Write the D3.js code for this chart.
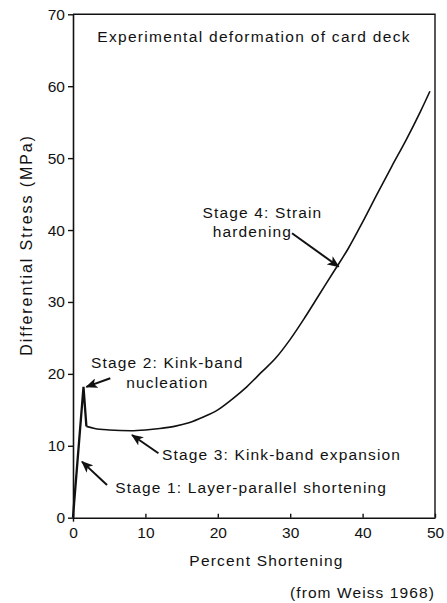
<!DOCTYPE html>
<html>
<head>
<meta charset="utf-8">
<script src="https://cdn.jsdelivr.net/npm/d3@7"></script>
<style>
  html, body { margin: 0; padding: 0; background: #fff; }
  text { font-family: "Liberation Sans", Arial, Helvetica, sans-serif; fill: #111; }
</style>
</head>
<body>
<div id="chart"></div>
<script>
var shortening = [0, 0.15, 1.45, 1.85, 3, 5, 8, 10, 12, 14, 16, 18, 20, 22, 24, 26, 28, 30, 32, 34, 36, 38, 40, 42, 44, 46, 48, 49.3];
var stress     = [0, 2, 18.2, 12.7, 12.4, 12.2, 12.1, 12.2, 12.4, 12.7, 13.2, 14.0, 15.0, 16.5, 18.2, 20.2, 22.2, 24.8, 27.8, 31.0, 34.2, 37.4, 41.1, 45.0, 48.8, 52.5, 56.5, 59.3];

var xTicks = [0, 10, 20, 30, 40, 50];
var yTicks = [0, 10, 20, 30, 40, 50, 60, 70];

var title = "Experimental deformation of card deck";
var xLabel = "Percent Shortening";
var yLabel = "Differential Stress (MPa)";
var source = "(from Weiss 1968)";

// annotation lines of text, anchored in data units
var noteText = [
  {x: 5.84, y: 3.4,  t: "Stage 1: Layer-parallel shortening"},
  {x: 2.49, y: 20.8, t: "Stage 2: Kink-band"},
  {x: 7.36, y: 18.0, t: "nucleation"},
  {x: 12.3, y: 8.0,  t: "Stage 3: Kink-band expansion"},
  {x: 17.9, y: 41.7, t: "Stage 4: Strain"},
  {x: 19.3, y: 39.0, t: "hardening"}
];
// arrows: tail -> tip, data units
var noteArrows = [
  {x1: 4.7,  y1: 4.55, x2: 1.24, y2: 7.8},
  {x1: 5.15, y1: 19.4, x2: 1.84, y2: 18.2},
  {x1: 11.8, y1: 8.96, x2: 8.15, y2: 11.5},
  {x1: 30.25, y1: 39.55, x2: 36.7, y2: 34.9}
];

var W = 447, H = 603;
var plotL = 73, plotR = 435, plotT = 14.3, plotB = 517.7;

var svg = d3.select("#chart").append("svg")
  .attr("width", W).attr("height", H);

var x = d3.scaleLinear().domain([0, 50]).range([plotL, plotR]);
var y = d3.scaleLinear().domain([0, 70]).range([plotB, plotT]);

// frame (top + right), axes (left + bottom)
svg.append("path")
  .attr("d", "M" + plotL + "," + plotT + "H" + plotR + "V" + plotB)
  .attr("fill", "none").attr("stroke", "#111").attr("stroke-width", 1.4);

var yAxis = svg.append("g")
  .attr("transform", "translate(" + plotL + ",0)")
  .call(d3.axisLeft(y).tickValues(yTicks).tickSize(5).tickPadding(3).tickSizeOuter(0));
var xAxis = svg.append("g")
  .attr("transform", "translate(0," + plotB + ")")
  .call(d3.axisBottom(x).tickValues(xTicks).tickSize(-4).tickPadding(9).tickSizeOuter(0));

[xAxis, yAxis].forEach(function(g) {
  g.select(".domain").attr("stroke", "#111").attr("stroke-width", 1.6);
  g.selectAll(".tick line").attr("stroke", "#111").attr("stroke-width", 1.4);
  g.selectAll(".tick text")
    .style("font-family", "'Liberation Sans', Arial, sans-serif")
    .style("font-size", "15.5px").attr("fill", "#111");
});
// small downward stub at origin
xAxis.select(".tick line").attr("y1", 4).attr("y2", -4);

// curve: sharp stage 1-2 part, then smooth kink-band / hardening part
var pts = shortening.map(function(s, i) { return [s, stress[i]]; });
var sharpLine = d3.line()
  .x(function(d) { return x(d[0]); })
  .y(function(d) { return y(d[1]); });
var smoothLine = d3.line()
  .curve(d3.curveMonotoneX)
  .x(function(d) { return x(d[0]); })
  .y(function(d) { return y(d[1]); });

svg.append("path")
  .attr("d", sharpLine(pts.slice(0, 4)))
  .attr("fill", "none")
  .attr("stroke", "#111")
  .attr("stroke-width", 2.3)
  .attr("stroke-linejoin", "miter");

svg.append("path")
  .attr("d", smoothLine(pts.slice(3)))
  .attr("fill", "none")
  .attr("stroke", "#111")
  .attr("stroke-width", 1.6);

// arrowhead marker
svg.append("defs").append("marker")
  .attr("id", "head")
  .attr("viewBox", "0 0 12 10")
  .attr("refX", 11).attr("refY", 5)
  .attr("markerWidth", 12).attr("markerHeight", 10)
  .attr("markerUnits", "userSpaceOnUse")
  .attr("orient", "auto")
  .append("path")
  .attr("d", "M0,0 L12,5 L0,10 L3,5 Z")
  .attr("fill", "#111");

svg.selectAll("line.note")
  .data(noteArrows)
  .enter().append("line")
  .attr("class", "note")
  .attr("x1", function(d) { return x(d.x1); })
  .attr("y1", function(d) { return y(d.y1); })
  .attr("x2", function(d) { return x(d.x2); })
  .attr("y2", function(d) { return y(d.y2); })
  .attr("stroke", "#111")
  .attr("stroke-width", 2)
  .attr("marker-end", "url(#head)");

svg.selectAll("text.note")
  .data(noteText)
  .enter().append("text")
  .attr("class", "note")
  .attr("x", function(d) { return x(d.x); })
  .attr("y", function(d) { return y(d.y); })
  .style("font-size", "15.5px")
  .style("letter-spacing", "1.15px")
  .text(function(d) { return d.t; });

// title inside the box
svg.append("text")
  .attr("x", x(3.36)).attr("y", y(66.2))
  .style("font-size", "15.5px")
  .style("letter-spacing", "1.3px")
  .text(title);

// axis titles
svg.append("text")
  .attr("x", 266.5).attr("y", 566)
  .attr("text-anchor", "middle")
  .style("font-size", "15.5px")
  .style("letter-spacing", "1.2px")
  .text(xLabel);

svg.append("text")
  .attr("transform", "translate(32," + 245 + ") rotate(-90)")
  .attr("text-anchor", "middle")
  .style("font-size", "16px")
  .style("letter-spacing", "1.9px")
  .text(yLabel);

svg.append("text")
  .attr("x", plotR).attr("y", 598)
  .attr("text-anchor", "end")
  .style("font-size", "15.5px")
  .style("letter-spacing", "1.1px")
  .text(source);
</script>
</body>
</html>
